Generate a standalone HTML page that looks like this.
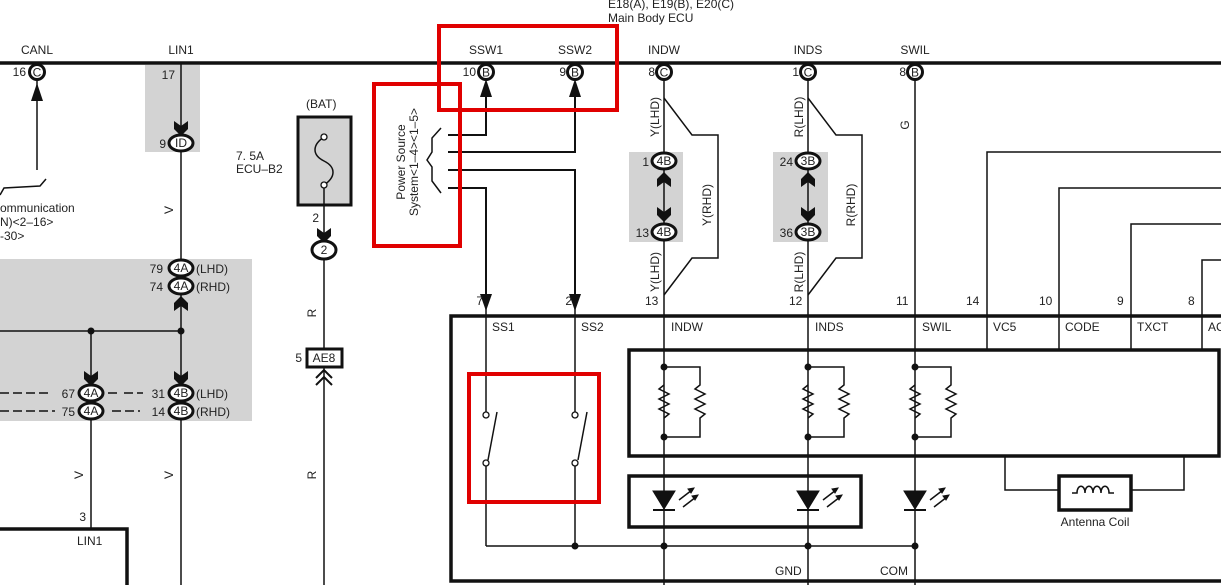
<!DOCTYPE html>
<html><head><meta charset="utf-8"><style>
html,body{margin:0;padding:0;background:#fff;}
svg{display:block;}
text{font-family:"Liberation Sans",sans-serif;font-size:12px;fill:#222;}
</style></head><body>
<svg width="1221" height="585" viewBox="0 0 1221 585" xmlns="http://www.w3.org/2000/svg">
<defs>
<path id="tdn" d="M-7,-9 L0,-4 L7,-9 L7,-1 L0,6 L-7,-1 Z" fill="#111"/>
<path id="tup" d="M-7,9 L0,4 L7,9 L7,1 L0,-6 L-7,1 Z" fill="#111"/>
</defs>
<rect x="145" y="65" width="55" height="87" fill="#d3d3d3"/>
<rect x="0" y="259" width="252" height="162" fill="#d3d3d3"/>
<rect x="629" y="152" width="54" height="90" fill="#d3d3d3"/>
<rect x="773" y="152" width="55" height="90" fill="#d3d3d3"/>

<text x="608" y="8">E18(A), E19(B), E20(C)</text>
<text x="608" y="22">Main Body ECU</text>

<line x1="0" y1="63" x2="1221" y2="63" stroke="#111" stroke-width="3.5"/>
<g text-anchor="middle">
<text x="37" y="54">CANL</text><text x="181" y="54">LIN1</text>
<text x="486" y="54">SSW1</text><text x="575" y="54">SSW2</text>
<text x="664" y="54">INDW</text><text x="808" y="54">INDS</text><text x="915" y="54">SWIL</text>
</g>

<g stroke="#111" fill="none" stroke-width="1.5">
<line x1="37" y1="80" x2="37" y2="170"/>
<path d="M0,195 L4,188 L40,186 L46,179"/>
<line x1="181" y1="63" x2="181" y2="260"/>
<line x1="181" y1="295" x2="181" y2="585"/>
<line x1="0" y1="331" x2="181" y2="331"/>
<line x1="91" y1="331" x2="91" y2="528"/>
<path d="M0,393 H52 M108,393 H118 M124,393 H143" stroke-dasharray="9,4"/>
<path d="M0,411 H55 M112,411 H140" stroke-dasharray="9,4"/>
<line x1="324" y1="205" x2="324" y2="585"/>
<g stroke-width="2">
<path d="M448,135 H486 V85"/>
<path d="M448,152 H575 V85"/>
<path d="M448,170 H575 V295"/>
<path d="M448,188 H486 V295"/>
</g>
<path d="M441,128 L432,138 V152 L427,160 L432,167 V181 L441,193"/>
<line x1="486" y1="300" x2="486" y2="415"/>
<line x1="486" y1="463" x2="486" y2="546"/>
<line x1="575" y1="300" x2="575" y2="415"/>
<line x1="575" y1="463" x2="575" y2="546"/>
<line x1="486" y1="546" x2="915" y2="546"/>
<line x1="497" y1="412" x2="488" y2="460"/>
<line x1="587" y1="412" x2="578" y2="460"/>
<line x1="664" y1="80" x2="664" y2="585"/>
<line x1="808" y1="80" x2="808" y2="585"/>
<line x1="915" y1="80" x2="915" y2="585"/>
<path d="M664,98 L692,135 H718 V258 H692 L664,295"/>
<path d="M808,98 L836,135 H862 V258 H836 L808,295"/>
<path d="M987,315 V152 H1221"/>
<path d="M1059,315 V188 H1221"/>
<path d="M1131,315 V224 H1221"/>
<path d="M1202,315 V260 H1221"/>
<line x1="1059" y1="315" x2="1059" y2="349"/>
<g id="res">
<path d="M664,367 H700 V385 L695,389 L705,394 L695,399 L705,404 L695,409 L705,414 L700,418 V437 H664"/>
<path d="M664,385 L659,389 L669,394 L659,399 L669,404 L659,409 L669,414 L664,418"/>
</g>
<use href="#res" transform="translate(144,0)"/>
<use href="#res" transform="translate(251,0)"/>
<path d="M1005,457 V490 H1058 M1131,490 H1184 V457"/>
<path d="M1072,493 H1077 C1077,484 1085,484 1085,493 C1085,484 1093,484 1093,493 C1093,484 1101,484 1101,493 C1101,484 1109,484 1109,493 H1114"/>
</g>
<g fill="#111">
<circle cx="91" cy="331" r="3.5"/><circle cx="181" cy="331" r="3.5"/>
<circle cx="575" cy="546" r="3.5"/><circle cx="664" cy="546" r="3.5"/><circle cx="808" cy="546" r="3.5"/><circle cx="915" cy="546" r="3.5"/>
<circle cx="664" cy="367" r="3.5"/><circle cx="664" cy="437" r="3.5"/>
<circle cx="808" cy="367" r="3.5"/><circle cx="808" cy="437" r="3.5"/>
<circle cx="915" cy="367" r="3.5"/><circle cx="915" cy="437" r="3.5"/>
<polygon points="37,83 31,101 43,101"/>
<polygon points="486,79 480,97 492,97"/>
<polygon points="575,79 569,97 581,97"/>
<polygon points="486,311 480,294 492,294"/>
<polygon points="575,311 569,294 581,294"/>
</g>
<g fill="#fff" stroke="#111" stroke-width="1.3">
<circle cx="486" cy="415" r="3"/><circle cx="486" cy="463" r="3"/>
<circle cx="575" cy="415" r="3"/><circle cx="575" cy="463" r="3"/>
</g>
<use href="#tdn" x="181" y="130"/>
<use href="#tup" x="181" y="302"/>
<use href="#tdn" x="91" y="380"/><use href="#tdn" x="181" y="380"/>
<use href="#tdn" x="324" y="237"/>
<use href="#tup" x="664" y="178"/><use href="#tdn" x="664" y="216"/>
<use href="#tup" x="808" y="178"/><use href="#tdn" x="808" y="216"/>
<path d="M316,378 L324,370 L332,378 M316,385 L324,377 L332,385" stroke="#111" stroke-width="2" fill="none"/>

<g fill="#fff" stroke="#111" stroke-width="3">
<circle cx="37" cy="72" r="7.5"/><circle cx="486" cy="72" r="7.5"/><circle cx="575" cy="72" r="7.5"/>
<circle cx="664" cy="72" r="7.5"/><circle cx="808" cy="72" r="7.5"/><circle cx="915" cy="72" r="7.5"/>
<ellipse cx="181" cy="143" rx="12" ry="8"/>
<ellipse cx="181" cy="268" rx="12" ry="8"/><ellipse cx="181" cy="286" rx="12" ry="8"/>
<ellipse cx="91" cy="393" rx="12" ry="8"/><ellipse cx="91" cy="411" rx="12" ry="8"/>
<ellipse cx="181" cy="393" rx="12" ry="8"/><ellipse cx="181" cy="411" rx="12" ry="8"/>
<ellipse cx="324" cy="250" rx="12" ry="9"/>
<ellipse cx="664" cy="161" rx="12" ry="8"/><ellipse cx="664" cy="232" rx="12" ry="8"/>
<ellipse cx="808" cy="161" rx="12" ry="8"/><ellipse cx="808" cy="232" rx="12" ry="8"/>
<rect x="307" y="349" width="35" height="18" stroke-width="3"/>
</g>
<g text-anchor="middle">
<text x="37" y="76.5">C</text><text x="486" y="76.5">B</text><text x="575" y="76.5">B</text>
<text x="664" y="76.5">C</text><text x="808" y="76.5">C</text><text x="915" y="76.5">B</text>
<text x="181" y="147">ID</text>
<text x="181" y="272">4A</text><text x="181" y="290">4A</text>
<text x="91" y="397">4A</text><text x="91" y="415">4A</text>
<text x="181" y="397">4B</text><text x="181" y="415">4B</text>
<text x="324" y="254">2</text>
<text x="664" y="165">4B</text><text x="664" y="236">4B</text>
<text x="808" y="165">3B</text><text x="808" y="236">3B</text>
<text x="324" y="362">AE8</text>
</g>
<g text-anchor="end">
<text x="26" y="76">16</text><text x="476" y="76">10</text><text x="566" y="76">9</text>
<text x="655" y="76">8</text><text x="799" y="76">1</text><text x="906" y="76">8</text>
<text x="175" y="79">17</text><text x="166" y="148">9</text>
<text x="163" y="273">79</text><text x="163" y="291">74</text>
<text x="75" y="398">67</text><text x="75" y="416">75</text>
<text x="165" y="398">31</text><text x="165" y="416">14</text>
<text x="319" y="222">2</text><text x="302" y="362">5</text>
<text x="649" y="166">1</text><text x="649" y="237">13</text>
<text x="793" y="166">24</text><text x="793" y="237">36</text>
<text x="86" y="521">3</text>
<text x="483" y="305">7</text><text x="572" y="305">2</text>
</g>
<text x="196" y="273">(LHD)</text><text x="196" y="291">(RHD)</text>
<text x="196" y="398">(LHD)</text><text x="196" y="416">(RHD)</text>
<text x="0" y="212">ommunication</text><text x="0" y="226">N)&lt;2–16&gt;</text><text x="0" y="240">-30&gt;</text>
<text x="236" y="160">7. 5A</text><text x="236" y="173">ECU–B2</text>
<text x="306" y="108">(BAT)</text>
<text x="77" y="545">LIN1</text>
<g>
<text transform="translate(173,210) rotate(-90)" text-anchor="middle">V</text>
<text transform="translate(83,475) rotate(-90)" text-anchor="middle">V</text>
<text transform="translate(173,475) rotate(-90)" text-anchor="middle">V</text>
<text transform="translate(316,313) rotate(-90)" text-anchor="middle">R</text>
<text transform="translate(316,475) rotate(-90)" text-anchor="middle">R</text>
<text transform="translate(909,125) rotate(-90)" text-anchor="middle">G</text>
<text transform="translate(405,162) rotate(-90)" text-anchor="middle">Power Source</text>
<text transform="translate(418,162) rotate(-90)" text-anchor="middle">System&lt;1–4&gt;&lt;1–5&gt;</text>
<text transform="translate(659,117) rotate(-90)" text-anchor="middle">Y(LHD)</text>
<text transform="translate(659,272) rotate(-90)" text-anchor="middle">Y(LHD)</text>
<text transform="translate(711,205) rotate(-90)" text-anchor="middle">Y(RHD)</text>
<text transform="translate(803,117) rotate(-90)" text-anchor="middle">R(LHD)</text>
<text transform="translate(803,272) rotate(-90)" text-anchor="middle">R(LHD)</text>
<text transform="translate(855,205) rotate(-90)" text-anchor="middle">R(RHD)</text>
</g>
<text x="645" y="305">13</text><text x="789" y="305">12</text><text x="896" y="305">11</text>
<text x="966" y="305">14</text><text x="1039" y="305">10</text><text x="1117" y="305">9</text><text x="1188" y="305">8</text>

<rect x="298" y="117" width="53" height="88" fill="#d3d3d3" stroke="#111" stroke-width="3"/>
<path d="M324,137 C312,145 312,155 324,161 C336,167 336,177 324,185 V205" stroke="#111" stroke-width="1.5" fill="none"/>
<circle cx="324" cy="137" r="3" fill="#fff" stroke="#111" stroke-width="1.3"/>
<circle cx="324" cy="185" r="3" fill="#fff" stroke="#111" stroke-width="1.3"/>

<g fill="none" stroke="#111" stroke-width="3.5">
<rect x="451" y="316" width="790" height="265"/>
<rect x="629" y="350" width="590" height="106"/>
<rect x="629" y="476" width="232" height="51"/>
<rect x="1059" y="476" width="72" height="34"/>
<path d="M0,529 H127 V585"/>
</g>
<g stroke="#111" stroke-width="1.5">
<line x1="987" y1="316" x2="987" y2="349"/><line x1="1131" y1="316" x2="1131" y2="349"/><line x1="1202" y1="316" x2="1202" y2="349"/>
</g>
<text x="492" y="331">SS1</text><text x="581" y="331">SS2</text><text x="671" y="331">INDW</text>
<text x="815" y="331">INDS</text><text x="922" y="331">SWIL</text><text x="993" y="331">VC5</text>
<text x="1065" y="331">CODE</text><text x="1137" y="331">TXCT</text><text x="1208" y="331">AC</text>
<text x="775" y="575">GND</text><text x="880" y="575">COM</text>
<text x="1095" y="526" text-anchor="middle">Antenna Coil</text>

<g id="led" fill="#111" stroke="#111">
<polygon points="653,491 675,491 664,509"/>
<line x1="653" y1="510" x2="675" y2="510" stroke-width="2"/>
<path d="M679,500 L692,490 M683,507 L696,497" stroke-width="1.5" fill="none"/>
<polygon points="694,488 688,489 691,493"/><polygon points="698,495 692,496 695,500"/>
</g>
<use href="#led" transform="translate(144,0)"/>
<use href="#led" transform="translate(251,0)"/>

<g fill="none" stroke="#e00000" stroke-width="4">
<rect x="439" y="26" width="178" height="84"/>
<rect x="374" y="84" width="86" height="162"/>
<rect x="469" y="374" width="130" height="128"/>
</g>
</svg>
</body></html>
